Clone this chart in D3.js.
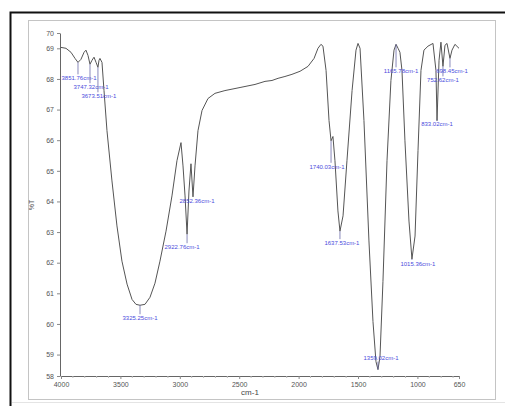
<!DOCTYPE html>
<html>
  <head>
    <script src="https://cdn.jsdelivr.net/npm/d3@7/dist/d3.min.js"></script>
    <style>
      body { margin: 0; background: #fff; }
      text { font-family: "Liberation Sans", Arial, sans-serif; }
    </style>
  </head>
  <body>
    <svg id="ir-spectrum" width="505" height="406"></svg>
    <script>
    // spectrum trace
    var wavenumber = [4000, 3958, 3916, 3882, 3857, 3832, 3806, 3790, 3773, 3756,
      3739, 3722, 3705, 3689, 3680, 3672, 3655, 3638, 3613, 3571,
      3529, 3487, 3444, 3402, 3369, 3335, 3293, 3251, 3209, 3167,
      3116, 3066, 3024, 2990, 2973, 2956, 2939, 2923, 2906, 2889,
      2872, 2847, 2813, 2763, 2704, 2620, 2493, 2367, 2283, 2224,
      2173, 2115, 2056, 1988, 1921, 1870, 1837, 1812, 1795, 1769,
      1744, 1727, 1711, 1694, 1669, 1652, 1626, 1593, 1550, 1517,
      1500, 1483, 1450, 1408, 1374, 1349, 1332, 1315, 1290, 1256,
      1223, 1197, 1180, 1163, 1147, 1130, 1105, 1071, 1046, 1020,
      995, 970, 945, 911, 869, 844, 835, 818, 802, 785,
      768, 751, 726, 709, 684, 650];
    var transmittance = [69.03, 69.0, 68.87, 68.67, 68.54, 68.64, 68.87, 68.94, 68.77, 68.48,
      68.61, 68.71, 68.54, 68.38, 68.61, 68.67, 68.54, 67.62, 66.31, 64.67,
      63.20, 62.05, 61.30, 60.80, 60.64, 60.61, 60.64, 60.87, 61.33, 62.05,
      63.03, 64.18, 65.33, 65.92, 65.16, 64.18, 62.93, 64.34, 65.23, 64.15,
      65.16, 66.31, 66.97, 67.36, 67.53, 67.62, 67.72, 67.82, 67.92, 67.95,
      68.02, 68.08, 68.15, 68.25, 68.41, 68.67, 69.0, 69.13, 69.07, 68.28,
      66.64, 65.98, 66.12, 65.33, 63.69, 63.03, 63.53, 65.33, 67.62, 68.94,
      69.16, 69.0, 66.64, 62.71, 60.08, 58.77, 58.51, 58.93, 61.39, 65.33,
      67.95, 68.94, 69.13, 69.0, 68.87, 68.28, 65.98, 63.36, 62.12, 62.87,
      65.66, 68.28, 68.94, 69.07, 69.16, 68.28, 66.64, 68.61, 69.20, 68.41,
      69.10, 69.16, 68.67, 68.94, 69.13, 69.0];

    // picked peaks
    var peakWn = [3857, 3756, 3689, 3335, 2939, 2889, 1727, 1652, 1332, 1180, 1046, 835, 785, 726];
    var peakT = [68.54, 68.48, 68.38, 60.61, 62.93, 64.15, 65.98, 63.03, 58.51, 69.13, 62.12, 66.64, 68.41, 68.67];
    var peakText = ["3851.76cm-1", "3747.32cm-1", "3673.51cm-1", "3325.25cm-1", "2922.76cm-1",
      "2852.36cm-1", "1740.03cm-1", "1637.53cm-1", "1359.02cm-1", "1165.78cm-1",
      "1015.36cm-1", "833.02cm-1", "752.62cm-1", "698.45cm-1"];

    var xTicks = [4000, 3500, 3000, 2500, 2000, 1500, 1000, 650];
    var yTicks = [58.3, 59, 60, 61, 62, 63, 64, 65, 66, 67, 68, 69, 69.5];

    // label placement (px offset from the peak point)
    var labelOffsets = [[1, 18], [1, 25], [1, 31], [0, 15], [-5, 15], [4, 6], [-4, 28], [2, 14],
      [3, -10], [5, 29], [6, 7], [0, 5], [0, 16], [2, 15]];

    var svg = d3.select("#ir-spectrum");

    // frames
    svg.append("path").attr("d", "M10.5,406V12.5H505")
      .attr("fill", "none").attr("stroke", "#111").attr("stroke-width", 2);
    svg.append("rect").attr("x", 28.5).attr("y", 20.5).attr("width", 467).attr("height", 379)
      .attr("fill", "none").attr("stroke", "#c4c4c4");
    svg.append("line").attr("x1", 12).attr("x2", 505).attr("y1", 402.5).attr("y2", 402.5)
      .attr("stroke", "#e4e4e4");

    var x = d3.scaleLinear().domain([4000, 650]).range([61, 459]);
    var y = d3.scaleLinear().domain([58.3, 69.5]).range([376, 33]);

    var xAxis = svg.append("g").attr("transform", "translate(0,376)")
      .call(d3.axisBottom(x).tickValues(xTicks).tickSize(3).tickSizeOuter(0).tickFormat(d3.format("d")));
    var yAxis = svg.append("g").attr("transform", "translate(60,0)")
      .call(d3.axisLeft(y).tickValues(yTicks).tickSize(3).tickSizeOuter(0).tickFormat(d3.format(".0f")));
    [xAxis, yAxis].forEach(function(g){
      g.select(".domain").attr("stroke", "#666");
      g.selectAll(".tick line").attr("stroke", "#888");
      g.selectAll("text").attr("fill", "#555").style("font-size", "7px");
    });

    // minor ticks on x
    svg.append("g").selectAll("line")
      .data(d3.range(3900, 650, -100).filter(function(d){ return d % 500 !== 0; }))
      .enter().append("line")
      .attr("x1", x).attr("x2", x).attr("y1", 376).attr("y2", 378)
      .attr("stroke", "#bbb");

    svg.append("text").attr("transform", "translate(34,205) rotate(-90)")
      .attr("text-anchor", "middle").attr("fill", "#555").style("font-size", "7px").text("%T");
    svg.append("text").attr("x", 250).attr("y", 395)
      .attr("text-anchor", "middle").attr("fill", "#444").style("font-size", "8px").text("cm-1");

    var line = d3.line()
      .x(function(d){ return x(d[0]); })
      .y(function(d){ return y(d[1]); });
    svg.append("path")
      .datum(d3.zip(wavenumber, transmittance))
      .attr("d", line)
      .attr("fill", "none").attr("stroke", "#555").attr("stroke-width", 1);

    var peaks = svg.append("g").selectAll("g")
      .data(d3.zip(peakWn, peakT, peakText, labelOffsets))
      .enter().append("g");
    peaks.append("line")
      .attr("x1", function(d){ return x(d[0]); })
      .attr("x2", function(d){ return x(d[0]); })
      .attr("y1", function(d){ return y(d[1]); })
      .attr("y2", function(d){ return y(d[1]) + d[3][1] - (d[3][1] > 0 ? 6 : -2); })
      .attr("stroke", "#6a6aa8").attr("stroke-width", 0.8);
    peaks.append("text")
      .attr("x", function(d){ return x(d[0]) + d[3][0]; })
      .attr("y", function(d){ return y(d[1]) + d[3][1]; })
      .attr("text-anchor", "middle")
      .attr("fill", "#4b4bdc")
      .style("font-size", "6px")
      .text(function(d){ return d[2]; });
    </script>
  </body>
</html>
